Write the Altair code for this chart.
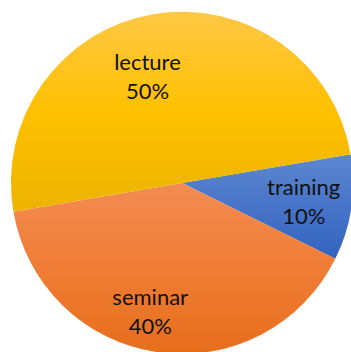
import math
import altair as alt
import pandas as pd

categories = ["training", "seminar", "lecture"]
values = [10, 40, 50]
pct_labels = ["10%", "40%", "50%"]

df = pd.DataFrame({"cat": categories, "value": values, "pct": pct_labels,
                   "order": list(range(len(categories)))})

start = math.radians(80.3)
CX, CY, R = 182, 183, 171

base = alt.Chart(df).transform_window(
    end="sum(value)", sort=[alt.SortField("order")], frame=[None, 0]
).transform_calculate(
    start="datum.end - datum.value",
    mid="datum.end - datum.value/2",
    label="[datum.cat, datum.pct]",
)

theta_scale = alt.Scale(domain=[0, 100], range=[start, start + 2 * math.pi])

def grad(c1, c2, c3):
    return alt.Gradient(
        gradient="linear", x1=0, x2=0, y1=0, y2=1,
        stops=[alt.GradientStop(offset=0, color=c1),
               alt.GradientStop(offset=0.5, color=c2),
               alt.GradientStop(offset=1, color=c3)],
    )

grads = {
    "lecture": grad("#FFC846", "#FFC000", "#EBB400"),
    "seminar": grad("#F28C52", "#F07D35", "#E66E1C"),
    "training": grad("#5C87D1", "#4874C8", "#3263BF"),
}

layers = []
for c in categories:
    layers.append(
        base.transform_filter(alt.datum.cat == c).mark_arc(
            radius=R, color=grads[c], stroke=None
        ).encode(
            theta=alt.Theta("start:Q", scale=theta_scale, stack=None),
            theta2="end:Q",
            x=alt.value(CX), y=alt.value(CY),
        )
    )

label_pos = {"lecture": (110, -16, -12), "training": (123, 0, -13), "seminar": (130, -13, -14)}
for c in categories:
    r, dx, dy = label_pos[c]
    layers.append(
        base.transform_filter(alt.datum.cat == c).mark_text(
            radius=r, dx=dx, dy=dy, font="Lato", fontSize=22, color="#111111",
            lineHeight=29, align="center", baseline="middle",
        ).encode(
            theta=alt.Theta("mid:Q", scale=theta_scale, stack=None),
            text="label:N",
            x=alt.value(CX), y=alt.value(CY),
        )
    )

chart = alt.layer(*layers).properties(
    width=351, height=352, autosize="none", padding=0
).configure_view(stroke=None)

chart.save("out.html", embed_options={"renderer": "svg", "actions": False})
